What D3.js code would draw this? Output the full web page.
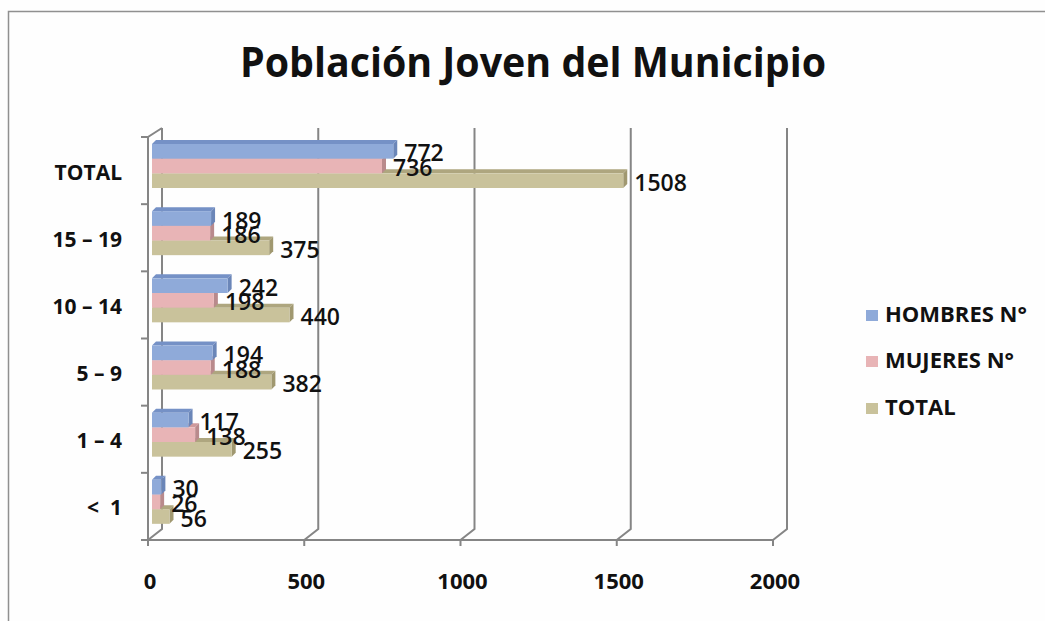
<!DOCTYPE html>
<html>
<head>
<meta charset="utf-8">
<script src="https://cdn.jsdelivr.net/npm/d3@7"></script>
<style>
  body { margin: 0; background: #fff; }
  text { font-family: "Open Sans", sans-serif; fill: #111; }
</style>
</head>
<body>
<div id="container"></div>
<script>
"use strict";

var categories = ["TOTAL", "15 \u2013 19", "10 \u2013 14", "5 \u2013 9", "1 \u2013 4", "<  1"];
var seriesNames = ["HOMBRES N\u00b0", "MUJERES N\u00b0", "TOTAL"];
var hombres = [772, 189, 242, 194, 117, 30];
var mujeres = [736, 186, 198, 188, 138, 26];
var totales = [1508, 375, 440, 382, 255, 56];
var xTicks = [0, 500, 1000, 1500, 2000];

var colors = ["#8faad9", "#e8b4b6", "#c9c29b"];
var sideColors = ["#6b86b8", "#b98a8c", "#a09870"];
var topColors = ["#7591c6", "#cf9a9c", "#aea67f"];

var W = 1045, H = 621;
var depth = { dx: 14, dy: -11 };
var barDepth = { dx: 4, dy: -4 };

var svg = d3.select("#container").append("svg")
    .attr("width", W)
    .attr("height", H);

svg.append("rect").attr("width", W).attr("height", H).attr("fill", "#fefefe");

// outer frame
svg.append("path")
    .attr("d", "M8.5," + H + "V11.5H" + W)
    .attr("fill", "none")
    .attr("stroke", "#909090")
    .attr("stroke-width", 1.5);

var x = d3.scaleLinear().domain([0, 2000]).range([148, 773]);
var y = d3.scaleBand().domain(categories).range([137, 540]);
var inner = d3.scaleBand().domain(d3.range(3)).range([7, 51]);

var grid = svg.append("g")
    .attr("fill", "none")
    .attr("stroke", "#858585")
    .attr("stroke-width", 2);

// back wall gridlines with floor diagonals
xTicks.forEach(function(t) {
    var fx = x(t), bx = fx + depth.dx;
    grid.append("path")
        .attr("d", "M" + fx + ",540L" + bx + "," + (540 + depth.dy) + "V128");
    grid.append("line")
        .attr("x1", fx).attr("x2", fx)
        .attr("y1", 540).attr("y2", 546);
});

// floor front edge
grid.append("line").attr("x1", x(0)).attr("x2", x(2000)).attr("y1", 540).attr("y2", 540);

// left wall front edge + top diagonal
grid.append("path")
    .attr("d", "M" + x(0) + ",540V137L" + (x(0) + depth.dx) + ",128");

// category ticks
var bounds = categories.map(function(c) { return y(c); }).concat([540]);
bounds.forEach(function(b) {
    grid.append("line")
        .attr("x1", x(0) - 7).attr("x2", x(0))
        .attr("y1", b).attr("y2", b);
});

// bars
var seriesData = [hombres, mujeres, totales];
var bars = svg.append("g");

categories.forEach(function(c, i) {
    var g = bars.append("g");
    // draw bottom series first so upper bars cover the top faces
    for (var s = 2; s >= 0; s--) {
        var v = seriesData[s][i];
        var x0 = x(0) + 4, x1 = x(v) + 4;
        var y0 = y(c) + inner(s), h = inner.bandwidth();
        var dx = barDepth.dx, dy = barDepth.dy;
        g.append("path")
            .attr("d", "M" + x0 + "," + y0 + "L" + (x0 + dx) + "," + (y0 + dy) +
                "H" + (x1 + dx) + "L" + x1 + "," + y0 + "Z")
            .attr("fill", topColors[s]);
        g.append("path")
            .attr("d", "M" + x1 + "," + y0 + "L" + (x1 + dx) + "," + (y0 + dy) +
                "V" + (y0 + h + dy) + "L" + x1 + "," + (y0 + h) + "Z")
            .attr("fill", sideColors[s]);
        g.append("rect")
            .attr("x", x0).attr("y", y0)
            .attr("width", x1 - x0).attr("height", h)
            .attr("fill", colors[s]);
    }
});

// data labels
var labels = svg.append("g")
    .attr("font-size", 23)
    .attr("font-weight", 600);

categories.forEach(function(c, i) {
    for (var s = 0; s < 3; s++) {
        var v = seriesData[s][i];
        labels.append("text")
            .attr("x", x(v) + 15)
            .attr("y", y(c) + inner(s) + inner.bandwidth() / 2 + 1)
            .attr("dominant-baseline", "central")
            .text(v);
    }
});

// category axis labels
svg.append("g")
    .attr("font-size", 21)
    .attr("font-weight", 700)
    .selectAll("text")
    .data(categories)
    .enter().append("text")
        .attr("x", 122)
        .attr("y", function(d) { return y(d) + y.bandwidth() / 2 + 1; })
        .attr("text-anchor", "end")
        .attr("dominant-baseline", "central")
        .attr("xml:space", "preserve")
        .text(function(d) { return d; });

// value axis labels
svg.append("g")
    .attr("font-size", 22)
    .attr("font-weight", 700)
    .selectAll("text")
    .data(xTicks)
    .enter().append("text")
        .attr("x", function(d) { return x(d) + 2; })
        .attr("y", 580)
        .attr("text-anchor", "middle")
        .attr("dominant-baseline", "central")
        .text(function(d) { return d; });

// title
svg.append("text")
    .attr("x", 533)
    .attr("y", 77)
    .attr("text-anchor", "middle")
    .attr("font-size", 42)
    .attr("font-weight", 700)
    .attr("textLength", 586)
    .attr("lengthAdjust", "spacingAndGlyphs")
    .text("Poblaci\u00f3n Joven del Municipio");

// legend
var legendY = [313, 359, 406];
var legend = svg.append("g")
    .attr("font-size", 22)
    .attr("font-weight", 700);

seriesNames.forEach(function(n, i) {
    legend.append("rect")
        .attr("x", 866).attr("y", legendY[i] - 3)
        .attr("width", 12).attr("height", 11)
        .attr("fill", colors[i]);
    legend.append("text")
        .attr("x", 885)
        .attr("y", legendY[i])
        .attr("dominant-baseline", "central")
        .text(n);
});
</script>
</body>
</html>
